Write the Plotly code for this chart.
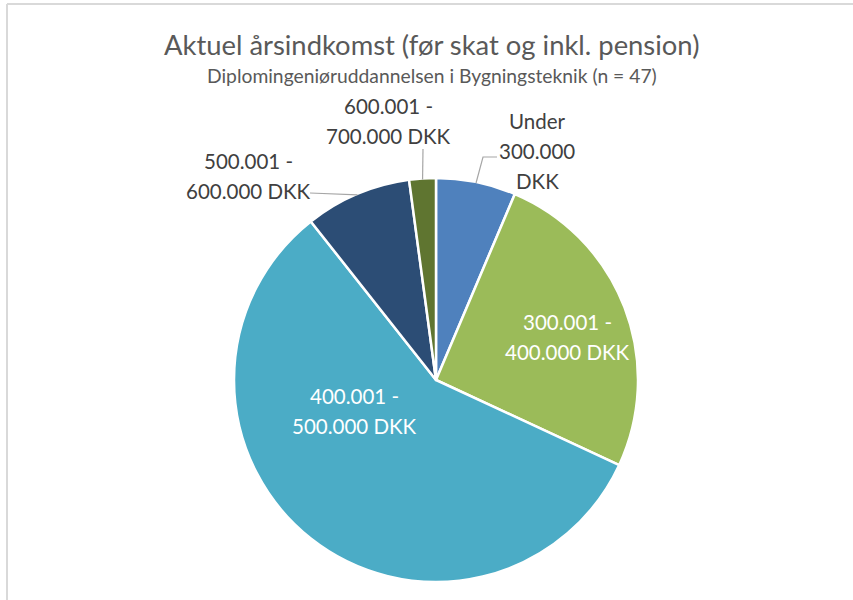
import math
import plotly.graph_objects as go

# ---- data ----
categories = ["Under 300.000 DKK", "300.001 - 400.000 DKK", "400.001 - 500.000 DKK",
              "500.001 - 600.000 DKK", "600.001 - 700.000 DKK"]
counts = [3, 12, 27, 4, 1]
label_lines = [["Under", "300.000", "DKK"], ["300.001 -", "400.000 DKK"], ["400.001 -", "500.000 DKK"],
               ["500.001 -", "600.000 DKK"], ["600.001 -", "700.000 DKK"]]
colors = ["#4F81BD", "#9BBB59", "#4BACC6", "#2C4D75", "#5F7530"]
title_text = "Aktuel årsindkomst (før skat og inkl. pension)"
subtitle_text = "Diplomingeniøruddannelsen i Bygningsteknik (n = 47)"

W, H = 853, 600
FONT = "Lato"

def px(x, y):
    return x / W, 1 - y / H

# pie geometry (pixels)
cx, cy, R = 436, 380, 202
dom_x = [(cx - R) / W, (cx + R) / W]
dom_y = [1 - (cy + R) / H, 1 - (cy - R) / H]

fig = go.Figure(go.Pie(
    labels=categories, values=counts, sort=False, direction="clockwise", rotation=0,
    marker=dict(colors=colors, line=dict(color="white", width=2.5)),
    textinfo="none", hoverinfo="label+value+percent", showlegend=False,
    domain=dict(x=dom_x, y=dom_y),
))

total = sum(counts)
mids = []
acc = 0
for c in counts:
    mids.append((acc + c / 2) / total * 2 * math.pi)
    acc += c

def edge(i, r=R - 1):
    a = mids[i]
    return cx + r * math.sin(a), cy - r * math.cos(a)

# label positions (pixel: centre x, first-line y) and colours
label_pos = [(537, 121), (567, 322), (354, 396), (248, 161), (388, 106)]
label_col = ["#404040", "white", "white", "#404040", "#404040"]
LINE = 30
annotations = []
for i, lines in enumerate(label_lines):
    for j, t in enumerate(lines):
        x, y = px(label_pos[i][0], label_pos[i][1] + j * LINE)
        annotations.append(dict(x=x, y=y, xref="paper", yref="paper", text=t, showarrow=False,
                                font=dict(family=FONT, size=20.5, color=label_col[i]),
                                xanchor="center", yanchor="middle", align="center"))

# title & subtitle
tx, ty = px(432, 45)
annotations.append(dict(x=tx, y=ty, xref="paper", yref="paper", text=title_text, showarrow=False,
                        font=dict(family=FONT, size=27.4, color="#595959"),
                        xanchor="center", yanchor="middle"))
sx, sy = px(432, 75)
annotations.append(dict(x=sx, y=sy, xref="paper", yref="paper", text=subtitle_text, showarrow=False,
                        font=dict(family=FONT, size=19.3, color="#595959"),
                        xanchor="center", yanchor="middle"))

# leader lines
def path(points):
    pts = [px(*p) for p in points]
    return "M " + " L ".join(f"{a},{b}" for a, b in pts)

shapes = []
lc = "#A6A6A6"
shapes.append(dict(type="path", xref="paper", yref="paper",
                   path=path([(497, 157), (483, 157), edge(0)]), line=dict(color=lc, width=1.2)))
shapes.append(dict(type="path", xref="paper", yref="paper",
                   path=path([(310, 193), edge(3)]), line=dict(color=lc, width=1.2)))
shapes.append(dict(type="path", xref="paper", yref="paper",
                   path=path([(423, 149), edge(4)]), line=dict(color=lc, width=1.2)))

# chart border (only top and left edges visible)
shapes.append(dict(type="line", xref="paper", yref="paper",
                   x0=px(7, 4)[0], y0=px(7, 4)[1], x1=1, y1=px(7, 4)[1],
                   line=dict(color="#D9D9D9", width=2), layer="below"))
shapes.append(dict(type="line", xref="paper", yref="paper",
                   x0=px(7, 4)[0], y0=px(7, 4)[1], x1=px(7, 4)[0], y1=0,
                   line=dict(color="#D9D9D9", width=2), layer="below"))

fig.update_layout(
    width=W, height=H, margin=dict(l=0, r=0, t=0, b=0),
    paper_bgcolor="white", plot_bgcolor="white",
    annotations=annotations, shapes=shapes,
)
fig.write_html("out.html", config={"displayModeBar": False},
               post_script="document.body.style.margin='0';document.body.style.overflow='hidden';")
